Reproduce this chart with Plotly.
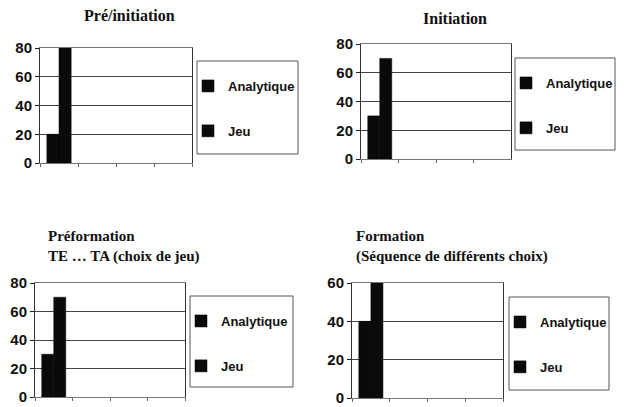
import plotly.graph_objects as go

W, H = 624, 407

titles = ["Pré/initiation", "Initiation", "Préformation<br>TE … TA (choix de jeu)",
          "Formation<br>(Séquence de différents choix)"]
series_names = ["Analytique", "Jeu"]
categories = ["c1", "c2", "c3", "c4"]
analytique = [20, 30, 30, 40]
jeu = [80, 70, 70, 60]
y_max = [80, 80, 80, 60]
y_ticks = [[0, 20, 40, 60, 80], [0, 20, 40, 60, 80], [0, 20, 40, 60, 80], [0, 20, 40, 60]]

# pixel layout: plot (x0, x1, ytop, ybottom), legend box (x0, x1, y0, y1), title (x, y, anchor)
plots = [(40, 192, 48, 163), (361, 511, 44, 159), (35, 185, 283, 397), (352, 503, 283, 398)]
legboxes = [(197, 298, 61, 154), (515, 615, 58, 150), (190, 293, 296, 387), (509, 609, 297, 390)]
title_pos = [(129, 15, "center", "middle"), (455, 18, "center", "middle"),
             (46, 226, "left", "top"), (354, 226, "left", "top")]
title_size = [16, 16, 15, 15]

def px(x):
    return x / W

def py(y):
    return 1 - y / H

fig = go.Figure()
layout = dict(width=W, height=H, margin=dict(l=0, r=0, t=0, b=0, autoexpand=False),
              paper_bgcolor="white", plot_bgcolor="white", showlegend=True,
              barmode="group", bargap=0.36, bargroupgap=0)
shapes, annotations = [], []

for i in range(4):
    xa = "x" if i == 0 else f"x{i+1}"
    ya = "y" if i == 0 else f"y{i+1}"
    lg = "legend" if i == 0 else f"legend{i+1}"
    vals = [analytique[i], jeu[i]]
    for s, name in enumerate(series_names):
        fig.add_trace(go.Bar(
            x=[categories[0]], y=[vals[s]], name=name, xaxis=xa, yaxis=ya,
            legend=lg, legendgroup=f"{lg}_{s}",
            marker=dict(color="#0a0a0a", line=dict(color="#000", width=0.5)),
        ))
    x0, x1, yt, yb = plots[i]
    xk = "xaxis" if i == 0 else f"xaxis{i+1}"
    yk = "yaxis" if i == 0 else f"yaxis{i+1}"
    layout[xk] = dict(domain=[px(x0), px(x1)], anchor=ya, type="category",
                      categoryorder="array", categoryarray=categories,
                      range=[-0.5, len(categories) - 0.5], automargin=False,
                      showticklabels=False, ticks="outside", ticklen=3,
                      tickson="boundaries", tickcolor="#666",
                      showline=True, linecolor="#777", linewidth=1, mirror=True,
                      showgrid=False, zeroline=False, fixedrange=True)
    layout[yk] = dict(domain=[py(yb), py(yt)], anchor=xa, range=[0, y_max[i]],
                      tickvals=y_ticks[i], ticks="outside", ticklen=4, tickcolor="#222",
                      showline=True, linecolor="#333", linewidth=1, mirror=True,
                      gridcolor="#444", gridwidth=1, zeroline=False, automargin=False,
                      tickfont=dict(family="Liberation Sans, Arial", size=15, color="#111",
                                    weight="bold"),
                      fixedrange=True)
    bx0, bx1, by0, by1 = legboxes[i]
    shapes.append(dict(type="rect", xref="paper", yref="paper",
                       x0=px(bx0), x1=px(bx1), y0=py(by1), y1=py(by0),
                       line=dict(color="#555", width=1), fillcolor="rgba(0,0,0,0)"))
    layout[lg] = dict(x=px(bx0 - 9), y=py(by0 + 10), xanchor="left", yanchor="top",
                      bgcolor="rgba(0,0,0,0)", borderwidth=0,
                      traceorder="grouped", tracegroupgap=25,
                      font=dict(family="Liberation Sans, Arial", size=13, color="#111",
                                weight="bold"))
    tx, ty, xan, yan = title_pos[i]
    annotations.append(dict(text=f"<b>{titles[i]}</b>", xref="paper", yref="paper",
                            x=px(tx), y=py(ty), xanchor=xan, yanchor=yan, showarrow=False,
                            align="left",
                            font=dict(family="Liberation Serif, Times New Roman",
                                      size=title_size[i], color="#111")))

layout["shapes"] = shapes
layout["annotations"] = annotations
fig.update_layout(**layout)
fig.write_html("out.html", config={"displayModeBar": False},
               post_script="document.body.style.margin='0';document.body.style.padding='0';")
